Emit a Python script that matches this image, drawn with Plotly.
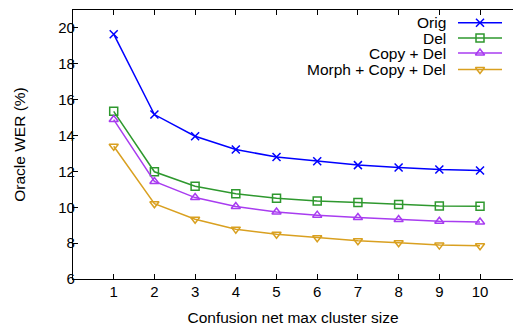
import plotly.graph_objects as go

cluster_sizes = [1, 2, 3, 4, 5, 6, 7, 8, 9, 10]
orig = [19.65, 15.17, 13.96, 13.22, 12.80, 12.57, 12.35, 12.22, 12.11, 12.05]
del_ = [15.35, 11.98, 11.17, 10.76, 10.50, 10.35, 10.26, 10.15, 10.07, 10.05]
copy_del = [14.89, 11.44, 10.54, 10.04, 9.74, 9.56, 9.43, 9.32, 9.22, 9.18]
morph_copy_del = [13.40, 10.20, 9.33, 8.78, 8.50, 8.30, 8.13, 8.02, 7.89, 7.85]

series_names = ["Orig", "Del", "Copy + Del", "Morph + Copy + Del"]
series_values = [orig, del_, copy_del, morph_copy_del]
colors = ["#0000ff", "#2e982e", "#a83cf0", "#d9a020"]
symbols = ["x-thin-open", "square-open", "triangle-up-open", "triangle-down-open"]
sizes = [8, 8, 8, 8]

x_tick_labels = [str(v) for v in cluster_sizes]
y_ticks = [6, 8, 10, 12, 14, 16, 18, 20]

FONT = "Liberation Sans, Arial, Helvetica, sans-serif"
W, H = 513, 326
L, R, T, B = 73, 0, 10, 47

fig = go.Figure()
for name, vals, c, s, sz in zip(series_names, series_values, colors, symbols, sizes):
    fig.add_trace(go.Scatter(
        x=cluster_sizes, y=vals, mode="lines+markers", name=name,
        line=dict(color=c, width=1.5),
        marker=dict(symbol=s, size=sz, color=c, line=dict(color=c, width=1.5)),
        showlegend=False,
    ))

# gnuplot-style legend (text left, sample right) on a pixel overlay axis
leg_y = [22.7, 38.0, 53.0, 69.5]
for name, c, s, sz, ly in zip(series_names, colors, symbols, sizes, leg_y):
    fig.add_trace(go.Scatter(
        x=[458, 502], y=[ly, ly], mode="lines", xaxis="x2", yaxis="y2",
        line=dict(color=c, width=1.5), showlegend=False, hoverinfo="skip",
    ))
    fig.add_trace(go.Scatter(
        x=[480], y=[ly], mode="markers", xaxis="x2", yaxis="y2",
        marker=dict(symbol=s, size=sz, color=c, line=dict(color=c, width=1.5)),
        showlegend=False, hoverinfo="skip",
    ))
    fig.add_annotation(
        x=447, y=ly, xref="x2", yref="y2", text=name, showarrow=False,
        xanchor="right", yanchor="middle", borderpad=0,
        font=dict(family=FONT, size=15.5, color="#000000"),
    )

fig.update_layout(
    width=W, height=H,
    margin=dict(l=L, r=R, t=T, b=B, autoexpand=False),
    paper_bgcolor="white", plot_bgcolor="rgba(0,0,0,0)",
    font=dict(family=FONT, size=15, color="#000000"),
    showlegend=False,
    xaxis=dict(
        range=[0, 10.81], tickmode="array", tickvals=cluster_sizes, ticktext=x_tick_labels,
        showgrid=False, zeroline=False, showline=True, linecolor="#000000", linewidth=1.2,
        mirror="ticks", ticks="inside", ticklen=5, tickcolor="#000000",
        automargin=False, ticklabelstandoff=-1,
        title=dict(text="Confusion net max cluster size", standoff=19,
                   font=dict(family=FONT, size=15.5)),
        tickfont=dict(family=FONT, size=15),
    ),
    yaxis=dict(
        range=[6, 21], tickmode="array", tickvals=y_ticks,
        showgrid=False, zeroline=False, showline=True, linecolor="#000000", linewidth=1.2,
        ticks="inside", ticklen=5, tickcolor="#000000",
        automargin=False, ticklabelstandoff=-6,
        title=dict(text="Oracle WER (%)", standoff=28, font=dict(family=FONT, size=15.5)),
        tickfont=dict(family=FONT, size=15),
    ),
    xaxis2=dict(domain=[0, 1], range=[L, W - R], visible=False, anchor="y2", automargin=False),
    yaxis2=dict(domain=[0, 1], range=[H - B, T], visible=False, anchor="x2", automargin=False),
)

fig.write_html("out.html", config={"displayModeBar": False},
               post_script="document.body.style.margin='0px';")
